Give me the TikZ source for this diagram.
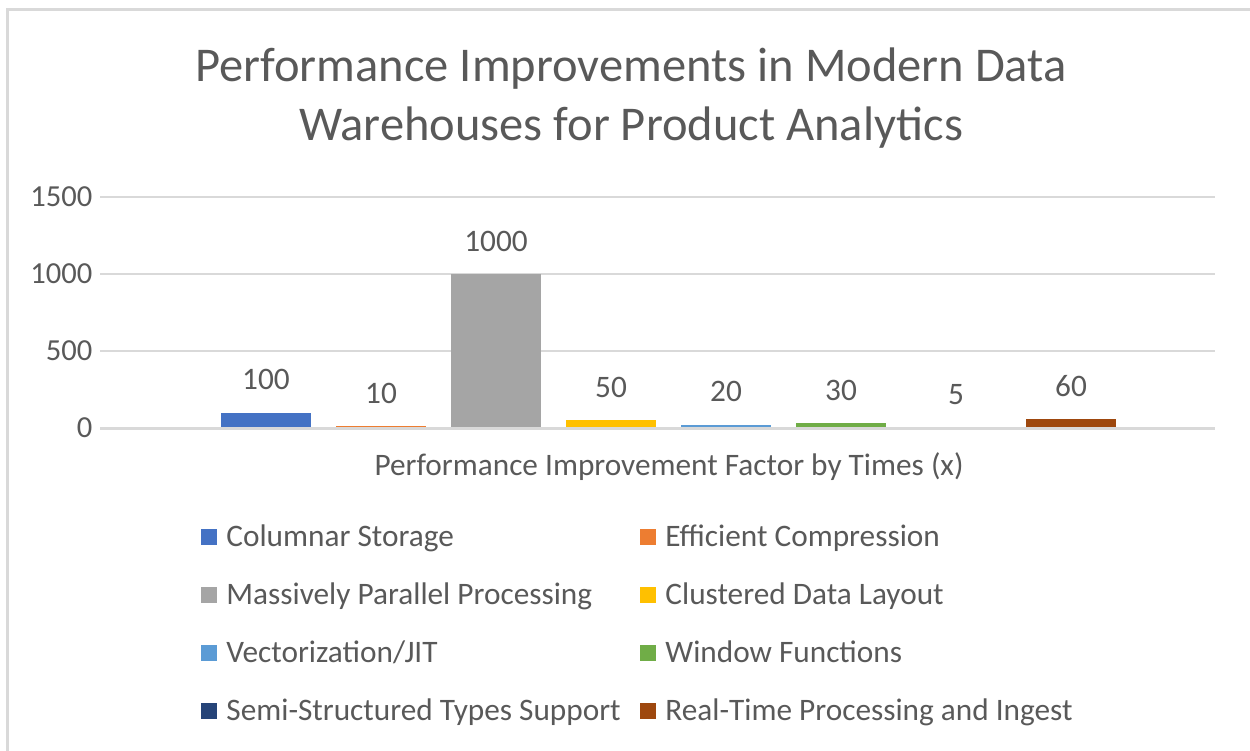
\documentclass[tikz,border=0pt]{standalone}
\usepackage{fontspec}
\setmainfont{Carlito}
\usepackage{xcolor}
\usetikzlibrary{positioning}

\definecolor{txtgray}{HTML}{595959}
\definecolor{gridgray}{HTML}{D9D9D9}
\definecolor{colblue}{HTML}{4472C4}
\definecolor{colorange}{HTML}{ED7D31}
\definecolor{colgray}{HTML}{A5A5A5}
\definecolor{colyellow}{HTML}{FFC000}
\definecolor{collight}{HTML}{5B9BD5}
\definecolor{colgreen}{HTML}{70AD47}
\definecolor{colnavy}{HTML}{264478}
\definecolor{colbrown}{HTML}{9E480E}

\tikzset{
  gridline/.style={draw=gridgray, line width=0.25mm},
  ticklabel/.style={anchor=east, text=txtgray, inner sep=0pt, font=\fontsize{8.7}{10}\selectfont},
  vallabel/.style={text=txtgray, inner sep=0pt, font=\fontsize{8.9}{10}\selectfont},
  legkey/.style={minimum size=1.6mm, inner sep=0pt},
  legtext/.style={text=txtgray, inner sep=0pt, text height=2.2mm, text depth=0.3mm, font=\fontsize{8.9}{10}\selectfont},
}

\begin{document}
\begin{tikzpicture}[x=0.1mm, y=-0.1mm]
      \useasboundingbox (0, 0) rectangle (1250, 751);

      % chart frame
      \draw[gridgray, line width=0.3mm] (7.5, 751) -- (7.5, 9.5) -- (1250, 9.5);

      \node[text=txtgray, align=center, inner sep=0pt, font=\fontsize{13.8}{16.8}\selectfont] (title) at (631, 98) {Performance Improvements in Modern Data\\Warehouses for Product Analytics};

      % grid and ticks
      \draw[gridline] (100, 197) -- (1215, 197);
      \draw[gridline] (100, 274) -- (1215, 274);
      \draw[gridline] (100, 351) -- (1215, 351);
      \node[ticklabel] (t1500) at (93, 197) {1500};
      \node[ticklabel] (t1000) at (93, 274) {1000};
      \node[ticklabel] (t500) at (93, 351) {500};
      \node[ticklabel] (t0) at (93, 428) {0};

      % bars
      \fill[colblue] (221, 428) rectangle (311, 412.6);
      \fill[colorange] (336, 428) rectangle (426, 426.46);
      \fill[colgray] (451, 428) rectangle (541, 274);
      \fill[colyellow] (566, 428) rectangle (656, 420.3);
      \fill[collight] (681, 428) rectangle (771, 424.92);
      \fill[colgreen] (796, 428) rectangle (886, 423.38);
      \fill[colnavy] (911, 428) rectangle (1001, 427.23);
      \fill[colbrown] (1026, 428) rectangle (1116, 418.76);
      \draw[gridline, line width=0.3mm] (100, 428.4) -- (1215, 428.4);

      % data labels
      \node[vallabel] (v1) at (266, 379.6) {100};
      \node[vallabel] (v2) at (381, 393.5) {10};
      \node[vallabel] (v3) at (496, 241) {1000};
      \node[vallabel] (v4) at (611, 387.3) {50};
      \node[vallabel] (v5) at (726, 391.9) {20};
      \node[vallabel] (v6) at (841, 390.4) {30};
      \node[vallabel] (v7) at (956, 394.2) {5};
      \node[vallabel] (v8) at (1071, 385.8) {60};

      \node[text=txtgray, inner sep=0pt, anchor=base, font=\fontsize{8.9}{10}\selectfont] (xtitle) at (669, 476) {Performance Improvement Factor by Times (x)};

      % legend
      \node[legkey, fill=colblue] (k1) at (209, 537) {};
      \node[legkey, fill=colorange] (k2) at (648, 537) {};
      \node[legkey, fill=colgray] (k3) at (209, 595) {};
      \node[legkey, fill=colyellow] (k4) at (648, 595) {};
      \node[legkey, fill=collight] (k5) at (209, 653) {};
      \node[legkey, fill=colgreen] (k6) at (648, 653) {};
      \node[legkey, fill=colnavy] (k7) at (209, 711) {};
      \node[legkey, fill=colbrown] (k8) at (648, 711) {};
      \node[legtext, right=0.8mm of k1] (l1) {Columnar Storage};
      \node[legtext, right=0.8mm of k2] (l2) {Efficient Compression};
      \node[legtext, right=0.8mm of k3] (l3) {Massively Parallel Processing};
      \node[legtext, right=0.8mm of k4] (l4) {Clustered Data Layout};
      \node[legtext, right=0.8mm of k5] (l5) {Vectorization/JIT};
      \node[legtext, right=0.8mm of k6] (l6) {Window Functions};
      \node[legtext, right=0.8mm of k7] (l7) {Semi-Structured Types Support};
      \node[legtext, right=0.8mm of k8] (l8) {Real-Time Processing and Ingest};

    \end{tikzpicture}
\end{document}
